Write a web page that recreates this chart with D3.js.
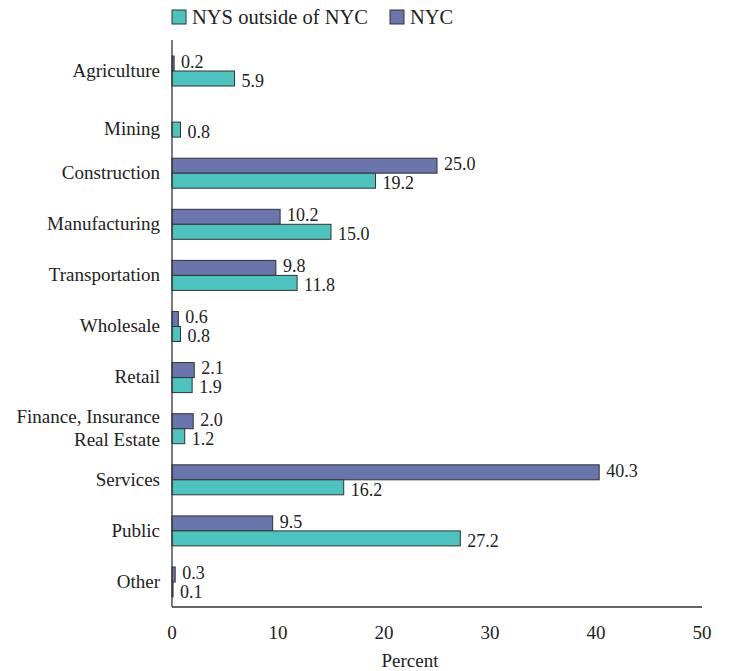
<!DOCTYPE html>
<html>
<head>
<meta charset="utf-8">
<script src="https://cdn.jsdelivr.net/npm/d3@7"></script>
<style>
  body { margin: 0; background: #fff; }
</style>
</head>
<body>
<svg id="chart" width="733" height="671" font-family="'Liberation Serif', 'DejaVu Serif', 'Times New Roman', serif"></svg>
<script>
// categories, top to bottom
const categories = ["Agriculture", "Mining", "Construction", "Manufacturing", "Transportation",
    "Wholesale", "Retail", "Finance, Insurance\nReal Estate", "Services", "Public", "Other"];

// percent of establishments (NYC has no mining value)
const nycValues = [0.2, null, 25.0, 10.2, 9.8, 0.6, 2.1, 2.0, 40.3, 9.5, 0.3];
const nysValues = [5.9, 0.8, 19.2, 15.0, 11.8, 0.8, 1.9, 1.2, 16.2, 27.2, 0.1];

const xTicks = [0, 10, 20, 30, 40, 50];

const colors = { nys: "#4cc3bf", nyc: "#6a74ad" };
const textColor = "#222";

const svg = d3.select("#chart");

const xScale = d3.scaleLinear().domain([0, 50]).range([172, 702]);
const yScale = d3.scalePoint().domain(categories).range([71, 582]);
const barH = 15;

/*------------------- legend -------------------*/
const legend = [
    { name: "NYS outside of NYC", color: colors.nys, x: 172 },
    { name: "NYC", color: colors.nyc, x: 390 }
];
const lg = svg.append("g");
lg.selectAll("rect")
    .data(legend)
    .enter()
    .append("rect")
    .attr("x", d => d.x)
    .attr("y", 10)
    .attr("width", 14)
    .attr("height", 14)
    .attr("fill", d => d.color)
    .attr("stroke", "#333")
    .attr("stroke-width", 1);
lg.selectAll("text")
    .data(legend)
    .enter()
    .append("text")
    .attr("x", d => d.x + 20)
    .attr("y", 17)
    .attr("dy", "0.35em")
    .attr("fill", textColor)
    .style("font-size", "20.5px")
    .text(d => d.name);

/*------------------- bars -------------------*/
const rows = categories.map((c, i) => ({ cat: c, nyc: nycValues[i], nys: nysValues[i] }));

const g = svg.append("g");

// NYC bars sit above the category centre
g.selectAll(".nyc")
    .data(rows.filter(d => d.nyc != null))
    .enter()
    .append("rect")
    .attr("class", "nyc")
    .attr("x", xScale(0))
    .attr("y", d => yScale(d.cat) - barH)
    .attr("width", d => xScale(d.nyc) - xScale(0))
    .attr("height", barH)
    .attr("fill", colors.nyc)
    .attr("stroke", "#333")
    .attr("stroke-width", 1);

g.selectAll(".nys")
    .data(rows)
    .enter()
    .append("rect")
    .attr("class", "nys")
    .attr("x", xScale(0))
    .attr("y", d => yScale(d.cat))
    .attr("width", d => xScale(d.nys) - xScale(0))
    .attr("height", barH)
    .attr("fill", colors.nys)
    .attr("stroke", "#333")
    .attr("stroke-width", 1);

// value labels
g.selectAll(".nycLab")
    .data(rows.filter(d => d.nyc != null))
    .enter()
    .append("text")
    .attr("x", d => xScale(d.nyc) + 7)
    .attr("y", d => yScale(d.cat) - 9.5)
    .attr("dy", "0.35em")
    .attr("fill", textColor)
    .style("font-size", "18px")
    .text(d => d.nyc.toFixed(1));

g.selectAll(".nysLab")
    .data(rows)
    .enter()
    .append("text")
    .attr("x", d => xScale(d.nys) + 7)
    .attr("y", d => yScale(d.cat) + 9.5)
    .attr("dy", "0.35em")
    .attr("fill", textColor)
    .style("font-size", "18px")
    .text(d => d.nys.toFixed(1));

/*------------------- axes -------------------*/
// category labels
const catLab = svg.append("g").selectAll("text")
    .data(rows)
    .enter()
    .append("text")
    .attr("text-anchor", "end")
    .attr("x", 160)
    .attr("y", d => yScale(d.cat) + (d.nyc == null ? 7.5 : 0))
    .attr("fill", textColor)
    .style("font-size", "19px");

catLab.each(function (d) {
    const lines = d.cat.split("\n");
    const t = d3.select(this);
    if (lines.length === 1) {
        t.append("tspan").attr("dy", "0.3em").text(lines[0]);
    } else {
        t.append("tspan").attr("x", 160).attr("dy", "-0.32em").text(lines[0]);
        t.append("tspan").attr("x", 160).attr("dy", "1.25em").text(lines[1]);
    }
});

// axis lines
svg.append("line")
    .attr("x1", xScale(0)).attr("x2", xScale(0))
    .attr("y1", 40).attr("y2", 607)
    .attr("stroke", "#333").attr("stroke-width", 1.3);
svg.append("line")
    .attr("x1", xScale(0)).attr("x2", xScale(50))
    .attr("y1", 607).attr("y2", 607)
    .attr("stroke", "#333").attr("stroke-width", 1.3);

svg.append("g").selectAll("text")
    .data(xTicks)
    .enter()
    .append("text")
    .attr("x", d => xScale(d))
    .attr("y", 632)
    .attr("dy", "0.35em")
    .attr("text-anchor", "middle")
    .attr("fill", textColor)
    .style("font-size", "19px")
    .text(d => d);

svg.append("text")
    .attr("x", 410)
    .attr("y", 667)
    .attr("text-anchor", "middle")
    .attr("fill", textColor)
    .style("font-size", "19px")
    .text("Percent");
</script>
</body>
</html>
